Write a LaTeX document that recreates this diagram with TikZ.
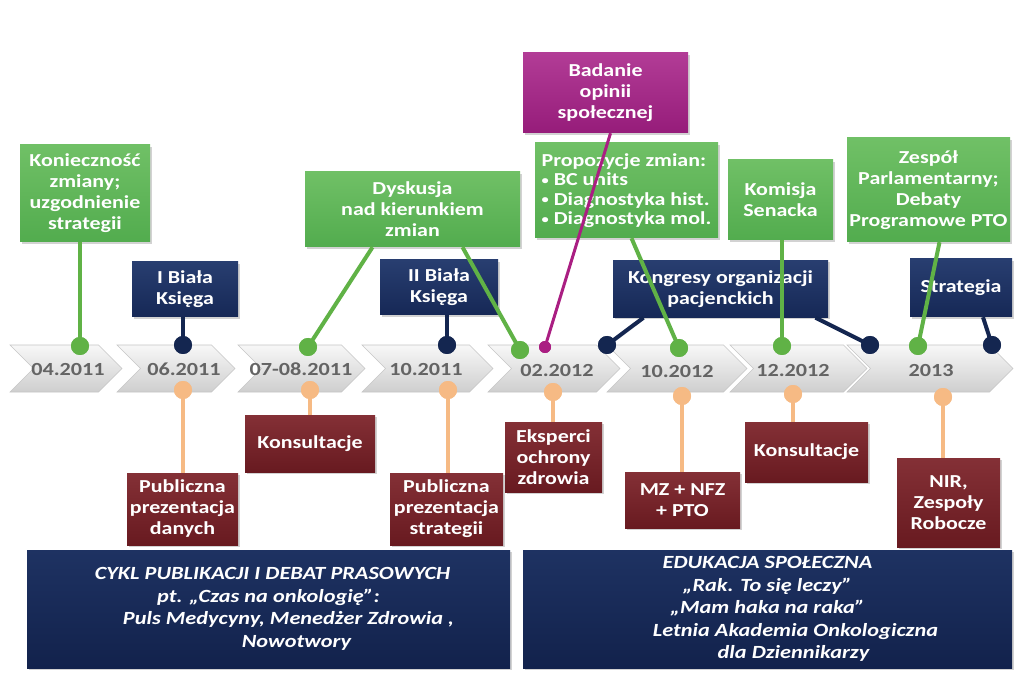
\documentclass[tikz,border=0pt]{standalone}
\usepackage{fontspec}
\setmainfont{Carlito}[FakeStretch=1.2]
\usetikzlibrary{shapes.symbols,shadows,calc}
\definecolor{gbox}{RGB}{82,172,78}
\definecolor{gboxlt}{RGB}{112,192,102}
\definecolor{nbox}{RGB}{22,40,86}
\definecolor{nboxlt}{RGB}{40,62,112}
\definecolor{bigtop}{RGB}{30,50,98}
\definecolor{bigbot}{RGB}{18,34,76}
\definecolor{bbox}{RGB}{104,26,32}
\definecolor{bboxlt}{RGB}{132,48,54}
\definecolor{mbox}{RGB}{150,28,122}
\definecolor{mboxlt}{RGB}{178,60,150}
\definecolor{peach}{RGB}{246,186,132}
\definecolor{gline}{RGB}{96,178,70}
\definecolor{nline}{RGB}{20,38,80}
\definecolor{mline}{RGB}{170,30,130}
\definecolor{datecol}{RGB}{100,100,100}
\newcommand{\sbul}{{\fontsize{12}{12}\selectfont\raisebox{1.5pt}{•}}}
\tikzset{
  basebox/.style={rectangle, inner sep=2pt, text=white, align=center,
    font=\bfseries\fontsize{18.3}{21}\selectfont,
    drop shadow={opacity=0.35, shadow xshift=2pt, shadow yshift=-2pt}},
  gbox/.style={basebox, top color=gboxlt, bottom color=gbox},
  nbox/.style={basebox, top color=nboxlt, bottom color=nbox},
  bbox/.style={basebox, top color=bboxlt, bottom color=bbox},
  mbox/.style={basebox, top color=mboxlt, bottom color=mbox},
  bigbox/.style={basebox, top color=bigtop, bottom color=bigbot,
    font=\bfseries\itshape\fontsize{18.6}{22.5}\selectfont},
  chev/.style={signal, signal to=east, signal from=west, minimum height=47pt,
    inner sep=0pt, draw=gray!45, line width=0.6pt,
    top color=gray!6, bottom color=gray!38},
  datelbl/.style={text=datecol, font=\bfseries\fontsize{18.5}{20}\selectfont, inner sep=0pt},
  gdot/.style={circle, fill=gline, minimum size=18pt, inner sep=0pt},
  ndot/.style={circle, fill=nline, minimum size=18pt, inner sep=0pt},
  pdot/.style={circle, fill=peach, minimum size=18pt, inner sep=0pt},
  mdot/.style={circle, fill=mline, minimum size=12pt, inner sep=0pt},
  gconn/.style={draw=gline, line width=4pt},
  nconn/.style={draw=nline, line width=4pt},
  pconn/.style={draw=peach, line width=4pt},
  mconn/.style={draw=mline, line width=3pt},
}
\begin{document}
\begin{tikzpicture}[x=1pt,y=-1pt]
\useasboundingbox[fill=white] (0,0) rectangle (1015,676);

% timeline chevrons
\node[chev, minimum width=112pt] (c1) at (66,368.5) {};
\node[chev, minimum width=118pt] (c2) at (176,368.5) {};
\node[chev, minimum width=127pt] (c3) at (301.5,368.5) {};
\node[chev, minimum width=131pt] (c4) at (427.5,368.5) {};
\node[chev, minimum width=132pt] (c5) at (554,368.5) {};
\node[chev, minimum width=140pt] (c6) at (677,368.5) {};
\node[chev, minimum width=137pt] (c7) at (798.5,368.5) {};
\node[chev, minimum width=166pt] (c8) at (930,368.5) {};

\node[datelbl] (d1) at (68,369) {04.2011};
\node[datelbl] (d2) at (184,369) {06.2011};
\node[datelbl] (d3) at (301,369) {07-08.2011};
\node[datelbl] (d4) at (426,369) {10.2011};
\node[datelbl] (d5) at (557,370) {02.2012};
\node[datelbl] (d6) at (677,371) {10.2012};
\node[datelbl] (d7) at (793,370) {12.2012};
\node[datelbl] (d8) at (931,370) {2013};

% green boxes
\node[gbox, minimum width=130pt, minimum height=97pt] (k1) at (85,193.5)
  {Konieczność\\zmiany;\\uzgodnienie\\strategii};
\node[gbox, minimum width=215pt, minimum height=75pt] (dys) at (412.5,209.5)
  {Dyskusja\\nad kierunkiem\\zmian};
\node[gbox, minimum width=183pt, minimum height=95pt, align=left,
  font=\bfseries\fontsize{18.3}{19.5}\selectfont] (prop) at (626.5,190.5)
  {Propozycje zmian:\\\sbul\ BC units\\\sbul\ Diagnostyka hist.\\\sbul\ Diagnostyka mol.};
\node[gbox, minimum width=105pt, minimum height=80pt] (kom) at (780.5,200)
  {Komisja\\Senacka};
\node[gbox, minimum width=163pt, minimum height=104pt] (zes) at (928.5,190)
  {Zespół\\Parlamentarny;\\Debaty\\Programowe PTO};
\node[mbox, minimum width=165pt, minimum height=80pt] (bad) at (605.5,93)
  {Badanie\\opinii\\społecznej};

% navy boxes
\node[nbox, minimum width=106pt, minimum height=55pt] (bk1) at (185,289.5)
  {I Biała\\Księga};
\node[nbox, minimum width=118pt, minimum height=55pt] (bk2) at (439,287.5)
  {II Biała\\Księga};
\node[nbox, minimum width=215pt, minimum height=57pt] (kon) at (720.5,289)
  {Kongresy organizacji\\pacjenckich};
\node[nbox, minimum width=102pt, minimum height=58pt] (str) at (961,288)
  {Strategia};

% brown boxes
\node[bbox, minimum width=111pt, minimum height=72pt] (pd) at (182.5,509)
  {Publiczna\\prezentacja\\danych};
\node[bbox, minimum width=130pt, minimum height=57pt] (ks1) at (310,443.5)
  {Konsultacje};
\node[bbox, minimum width=113pt, minimum height=72pt] (ps) at (446.5,509)
  {Publiczna\\prezentacja\\strategii};
\node[bbox, minimum width=97pt, minimum height=70pt] (eks) at (553.5,457)
  {Eksperci\\ochrony\\zdrowia};
\node[bbox, minimum width=115pt, minimum height=56pt] (mz) at (682.5,500)
  {MZ + NFZ\\+ PTO};
\node[bbox, minimum width=123pt, minimum height=60pt] (ks2) at (806.5,452)
  {Konsultacje};
\node[bbox, minimum width=103pt, minimum height=89pt] (nir) at (948.5,502.5)
  {NIR,\\Zespoły\\Robocze};

% bottom boxes
\node[bigbox, minimum width=483pt, minimum height=118pt] (cyk) at (268.5,609)
  {\hspace*{8pt}CYKL PUBLIKACJI I DEBAT PRASOWYCH\\
   pt. „Czas na onkologię”:\hspace*{26pt}\\
   \hspace*{40pt}Puls Medycyny, Menedżer Zdrowia ,\\
   \hspace*{56pt}Nowotwory};
\node[bigbox, minimum width=489pt, minimum height=118pt] (edu) at (767.5,609)
  {EDUKACJA SPOŁECZNA\\
   „Rak. To się leczy”\hspace*{38pt}\\
   „Mam haka na raka”\hspace*{30pt}\\
   \hspace*{56pt}Letnia Akademia  Onkologiczna\\
   \hspace*{52pt}dla Dziennikarzy};

% dots
\node[gdot] (g1) at (80,346) {};
\node[gdot] (g2) at (308,347) {};
\node[gdot] (g3) at (520,350) {};
\node[gdot] (g4) at (679,348) {};
\node[gdot] (g5) at (782,346) {};
\node[gdot] (g6) at (918,346) {};
\node[ndot] (n1) at (183,345) {};
\node[ndot] (n2) at (447,345) {};
\node[ndot] (n3) at (607,345) {};
\node[ndot] (n4) at (870,345) {};
\node[ndot] (n5) at (992,345) {};
\node[mdot] (m1) at (545,347) {};
\node[pdot] (p1) at (183,390) {};
\node[pdot] (p2) at (310,390) {};
\node[pdot] (p3) at (448,390) {};
\node[pdot] (p4) at (553,392) {};
\node[pdot] (p5) at (682,396) {};
\node[pdot] (p6) at (793,394) {};
\node[pdot] (p7) at (943,397) {};

% connectors
\draw[gconn] (g1 |- k1.south) -- (g1.center);
\draw[gconn] ([xshift=-40pt]dys.south) -- (g2.center);
\draw[gconn] ([xshift=50pt]dys.south) -- (g3.center);
\draw[gconn] ([xshift=5pt]prop.south) -- (g4.center);
\draw[gconn] (g5 |- kom.south) -- (g5.center);
\draw[gconn] ([xshift=11pt]zes.south) -- (g6.center);
\draw[mconn] ([xshift=5pt]bad.south) -- (m1.center);
\draw[nconn] (n1 |- bk1.south) -- (n1.center);
\draw[nconn] (n2 |- bk2.south) -- (n2.center);
\draw[nconn] ([xshift=-77pt]kon.south) -- (n3.center);
\draw[nconn] ([xshift=95pt]kon.south) -- (n4.center);
\draw[nconn] ([xshift=22pt]str.south) -- (n5.center);
\draw[pconn] (p1.center) -- (p1 |- pd.north);
\draw[pconn] (p2.center) -- (p2 |- ks1.north);
\draw[pconn] (p3.center) -- (p3 |- ps.north);
\draw[pconn] (p4.center) -- (p4 |- eks.north);
\draw[pconn] (p5.center) -- (p5 |- mz.north);
\draw[pconn] (p6.center) -- (p6 |- ks2.north);
\draw[pconn] (p7.center) -- (p7 |- nir.north);

% dots again on top of the connectors
\foreach \d in {g1,g2,g3,g4,g5,g6} \fill[gline] (\d) circle (9pt);
\foreach \d in {n1,n2,n3,n4,n5} \fill[nline] (\d) circle (9pt);
\foreach \d in {p1,p2,p3,p4,p5,p6,p7} \fill[peach] (\d) circle (9pt);
\fill[mline] (m1) circle (6pt);
\end{tikzpicture}
\end{document}
